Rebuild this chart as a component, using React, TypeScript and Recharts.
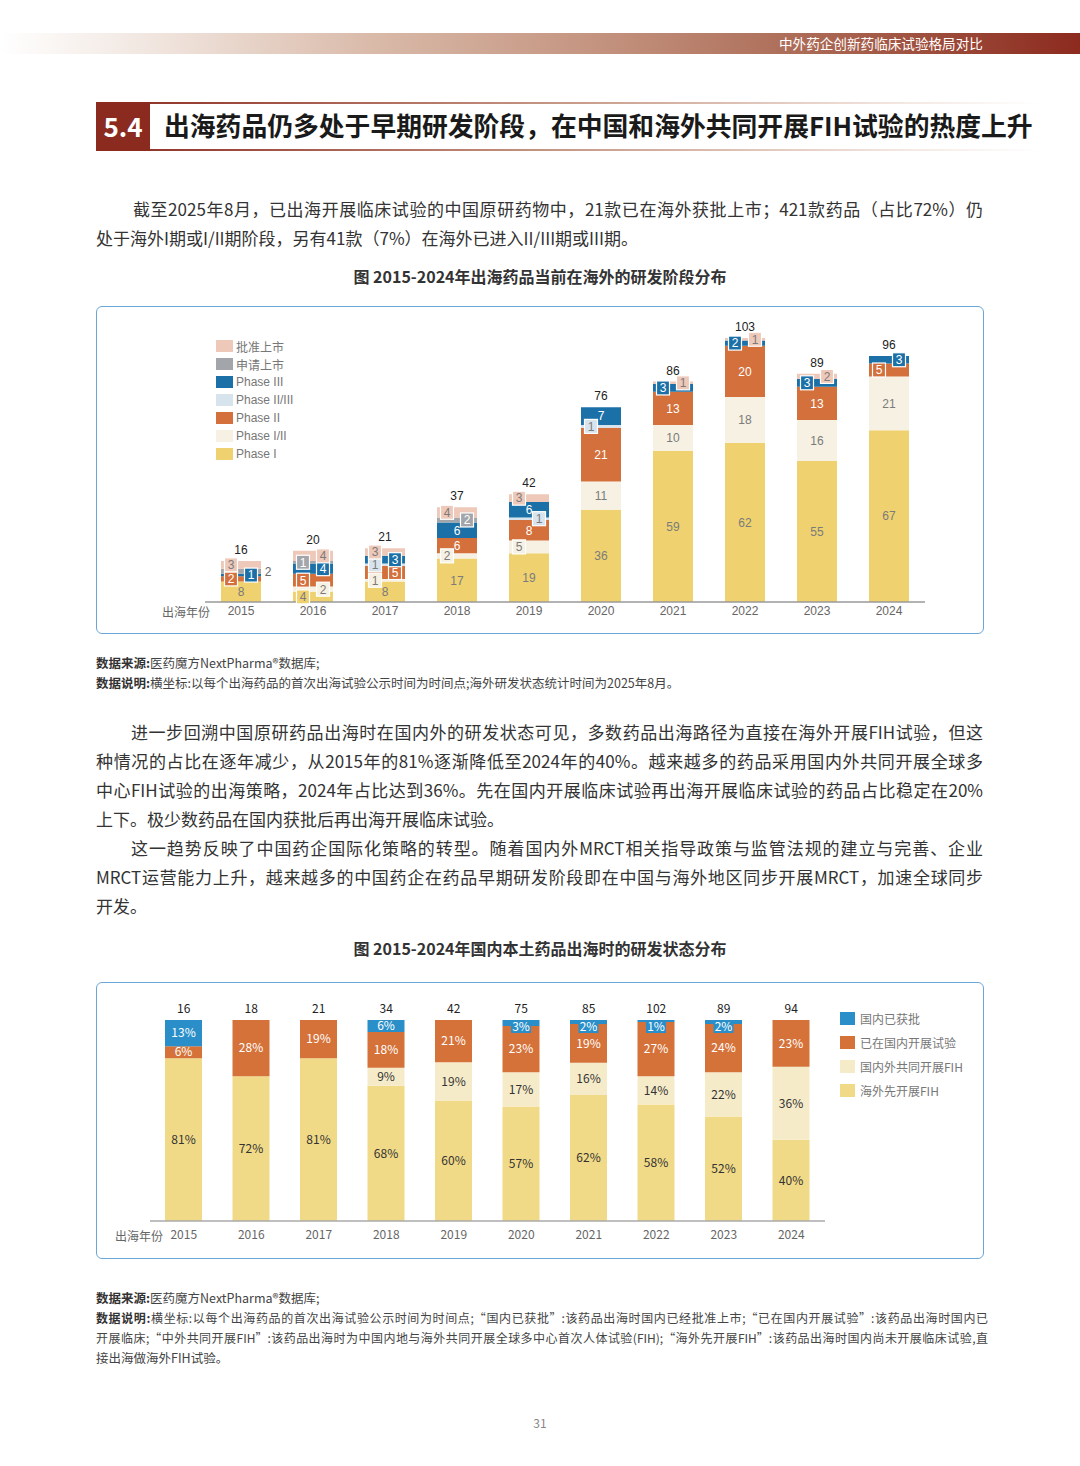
import React from "react";
import { ComposedChart, Bar, Line, XAxis, YAxis, LabelList, Legend } from "recharts";

// 图1：出海药品当前在海外的研发阶段（款）
const years = ["2015", "2016", "2017", "2018", "2019", "2020", "2021", "2022", "2023", "2024"];
const phaseI = [8, 4, 8, 17, 19, 36, 59, 62, 55, 67];
const phaseI_II = [0, 2, 1, 2, 5, 11, 10, 18, 16, 21];
const phaseII = [2, 5, 5, 6, 8, 21, 13, 20, 13, 5];
const phaseII_III = [0, 0, 1, 0, 1, 1, 0, 0, 0, 0];
const phaseIII = [1, 4, 3, 6, 6, 7, 3, 2, 3, 3];
const filed = [2, 1, 0, 2, 0, 0, 0, 0, 0, 0];
const approved = [3, 4, 3, 4, 3, 0, 1, 1, 2, 0];
const totals1 = [16, 20, 21, 37, 42, 76, 86, 103, 89, 96];

// 图2：出海时的国内研发状态（%）
const fihOverseas = [81, 72, 81, 68, 60, 57, 62, 58, 52, 40];
const fihJoint = [0, 0, 0, 9, 19, 17, 16, 14, 22, 36];
const trialDomestic = [6, 28, 19, 18, 21, 23, 19, 27, 24, 23];
const approvedDomestic = [13, 0, 0, 6, 0, 3, 2, 1, 2, 0];
const totals2 = [16, 18, 21, 34, 42, 75, 85, 102, 89, 94];

const CJK = '"Noto Sans CJK SC", "Noto Sans", sans-serif';
const LATIN = '"Liberation Sans", "Noto Sans CJK SC", sans-serif';

const stages = [
  { key: "p1", name: "Phase I", values: phaseI, color: "#EFD26F", text: "#7b7b7b" },
  { key: "p12", name: "Phase I/II", values: phaseI_II, color: "#F6F1E2", text: "#7b7b7b" },
  { key: "p2", name: "Phase II", values: phaseII, color: "#D3703B", text: "#fff" },
  { key: "p23", name: "Phase II/III", values: phaseII_III, color: "#D7E4EE", text: "#7b7b7b" },
  { key: "p3", name: "Phase III", values: phaseIII, color: "#1B70A8", text: "#fff" },
  { key: "filed", name: "申请上市", values: filed, color: "#A2A6AB", text: "#fff" },
  { key: "appr", name: "批准上市", values: approved, color: "#EEC8B8", text: "#7b7b7b" },
];

const statuses = [
  { key: "overseas", name: "海外先开展FIH", values: fihOverseas, color: "#F1DA87", text: "#333" },
  { key: "joint", name: "国内外共同开展FIH", values: fihJoint, color: "#F6EBC9", text: "#333" },
  { key: "trial", name: "已在国内开展试验", values: trialDomestic, color: "#D57239", text: "#fff" },
  { key: "approved", name: "国内已获批", values: approvedDomestic, color: "#2A8FC9", text: "#fff" },
];

const data1 = years.map((year, i) => {
  const row: any = { year, total: totals1[i] };
  stages.forEach((s) => (row[s.key] = s.values[i]));
  return row;
});

const data2 = years.map((year, i) => {
  const row: any = { year, total: totals2[i] };
  statuses.forEach((s) => (row[s.key] = s.values[i]));
  return row;
});

// labels get the year as value (LabelList dataKey="year"), zero bars are skipped so index can't be trusted
const yearIndex = (props: any) => {
  const k = years.indexOf(String(props.value));
  return k >= 0 ? k : props.index;
};

function box(props: any) {
  const vb = props.viewBox && props.viewBox.width != null ? props.viewBox : props;
  let { x, y, width, height } = vb;
  if (height < 0) {
    y += height;
    height = -height;
  }
  return { x, y, width, height };
}

// small segments: alternate left / right going up the bar, switch side or move outside on collision
// (positions worked out in value units: mid-point of each segment, 12px ≈ 4.7 units)
function smallSides(i: number) {
  const out: Record<string, number> = {};
  const placed: { side: number; mid: number }[] = [];
  let base = 0;
  let n = 0;
  stages.forEach((s) => {
    const v = s.values[i];
    const mid = base + v / 2;
    base += v;
    if (v <= 0 || v > 5) return;
    const pref = n % 2 === 0 ? -1 : 1;
    n++;
    const free = (side: number) => placed.every((p) => p.side !== side || Math.abs(p.mid - mid) >= 4.7);
    const side = free(pref) ? pref : free(-pref) ? -pref : 2;
    placed.push({ side, mid });
    out[s.key] = side;
  });
  return out;
}

const stageLabel = (s: any) => (props: any) => {
  const i = yearIndex(props);
  const v = s.values[i];
  if (!v) return null;
  const { x, y, width, height } = box(props);
  const cx = x + width / 2;
  const cy = y + height / 2;
  if (v > 5) {
    return (
      <text x={cx} y={cy} dy="0.36em" textAnchor="middle" fontSize={12} fontFamily={LATIN} fill={s.text}>
        {v}
      </text>
    );
  }
  const side = smallSides(i)[s.key];
  if (side === 2) {
    return (
      <text x={cx + 27} y={cy} dy="0.36em" textAnchor="middle" fontSize={12} fontFamily={LATIN} fill="#666">
        {v}
      </text>
    );
  }
  const bx = cx + side * 10;
  return (
    <g>
      {height < 13 && (
        <rect x={bx - 6.5} y={cy - 7} width={13} height={14} fill={s.color} stroke="#fff" strokeWidth={1.2} />
      )}
      <text x={bx} y={cy} dy="0.36em" textAnchor="middle" fontSize={12} fontFamily={LATIN} fill={s.text}>
        {v}
      </text>
    </g>
  );
};

const statusLabel = (s: any) => (props: any) => {
  const i = yearIndex(props);
  const v = s.values[i];
  if (!v) return null;
  const { x, y, width, height } = box(props);
  const cx = x + width / 2;
  if (height < 10) {
    return (
      <g>
        <rect x={cx - 10} y={y} width={20} height={13} fill={s.color} />
        <text x={cx} y={y + 6.5} dy="0.36em" textAnchor="middle" fontSize={12} fontFamily={CJK} fill={s.text}>
          {v}%
        </text>
      </g>
    );
  }
  return (
    <text x={cx} y={y + height / 2} dy="0.36em" textAnchor="middle" fontSize={12} fontFamily={CJK} fill={s.text}>
      {v}%
    </text>
  );
};

const totalLabel = (totals: number[], family: string) => (props: any) => {
  const vb = props.viewBox || {};
  const x = props.x ?? vb.x;
  const y = props.y ?? vb.y;
  const i = yearIndex(props);
  if (x == null || y == null || i == null) return null;
  return (
    <text x={x} y={y - 7} textAnchor="middle" fontSize={12} fontFamily={family} fill="#222">
      {totals[i]}
    </text>
  );
};

const StageLegend = () => (
  <div style={{ fontFamily: LATIN, fontSize: 12, color: "#777" }}>
    {[...stages].reverse().map((s) => (
      <div key={s.key} style={{ display: "flex", alignItems: "center", height: 18 }}>
        <span style={{ width: 17, height: 12, background: s.color, marginRight: 3, display: "inline-block" }} />
        {s.name}
      </div>
    ))}
  </div>
);

const StatusLegend = () => (
  <div style={{ fontFamily: CJK, fontSize: 12, color: "#777" }}>
    {[...statuses].reverse().map((s) => (
      <div key={s.key} style={{ display: "flex", alignItems: "center", height: 24 }}>
        <span style={{ width: 15, height: 13, background: s.color, marginRight: 5, display: "inline-block" }} />
        {s.name}
      </div>
    ))}
  </div>
);

function Line1({ top, left, width, text, justify = true }: any) {
  return (
    <div
      style={{
        position: "absolute",
        top: top - 14.5,
        left,
        width,
        height: 29,
        lineHeight: "29px",
        fontSize: 17,
        color: "#333",
        textAlign: justify ? "justify" : "left",
        textAlignLast: justify ? "justify" : "left",
      } as any}
    >
      {text}
    </div>
  );
}

function Note({ top, label, text, justify = false }: any) {
  return (
    <div
      style={{
        position: "absolute",
        top: top - 10,
        left: 96,
        width: 892,
        height: 20,
        lineHeight: "20px",
        fontSize: justify ? 12 : 12.5,
        color: "#444",
        whiteSpace: justify ? "normal" : "nowrap",
        textAlign: justify ? "justify" : "left",
        textAlignLast: justify ? "justify" : "left",
      } as any}
    >
      {label && <b style={{ color: "#333" }}>{label}</b>}
      {text}
    </div>
  );
}

export default function App() {
  return (
    <div
      style={{
        position: "absolute",
        left: 0,
        top: 0,
        width: 1080,
        height: 1466,
        background: "#fff",
        fontFamily: CJK,
        overflow: "hidden",
      }}
    >
      {/* header band */}
      <div
        style={{
          position: "absolute",
          left: 0,
          top: 33,
          width: 1080,
          height: 21,
          background:
            "linear-gradient(to right, #ffffff 0%, #F0E4DD 15%, #D9B9A8 35%, #C49480 55%, #AB6A55 75%, #8C2A1E 100%)",
        }}
      />
      <div style={{ position: "absolute", left: 779, top: 35, fontSize: 13.6, color: "#fff", lineHeight: "17px", whiteSpace: "nowrap" }}>
        中外药企创新药临床试验格局对比
      </div>

      {/* section title */}
      <div
        style={{
          position: "absolute",
          left: 96,
          top: 102,
          width: 944,
          height: 2,
          background: "linear-gradient(to right, #8B2A1F 0%, #C79A88 50%, #F3E6E0 85%, #ffffff 100%)",
        }}
      />
      <div
        style={{
          position: "absolute",
          left: 96,
          top: 149,
          width: 944,
          height: 2,
          background: "linear-gradient(to right, #8B2A1F 0%, #C79A88 50%, #F3E6E0 85%, #ffffff 100%)",
        }}
      />
      <div
        style={{
          position: "absolute",
          left: 96,
          top: 102,
          width: 54,
          height: 49,
          background: "#8B2A1F",
          color: "#fff",
          fontWeight: 700,
          fontSize: 26,
          lineHeight: "47px",
          textAlign: "center",
        }}
      >
        5.4
      </div>
      <div
        style={{
          position: "absolute",
          left: 164,
          top: 107,
          fontSize: 25.8,
          fontWeight: 700,
          color: "#1a1a1a",
          lineHeight: "36px",
          whiteSpace: "nowrap",
        }}
      >
        出海药品仍多处于早期研发阶段，在中国和海外共同开展FIH试验的热度上升
      </div>

      {/* paragraph 1 */}
      <Line1 top={208} left={133} width={850} text="截至2025年8月，已出海开展临床试验的中国原研药物中，21款已在海外获批上市；421款药品（占比72%）仍" />
      <Line1 top={237} left={96} width={700} justify={false} text="处于海外I期或I/II期阶段，另有41款（7%）在海外已进入II/III期或III期。" />

      {/* chart 1 */}
      <div
        style={{
          position: "absolute",
          left: 0,
          width: 1080,
          top: 265,
          textAlign: "center",
          fontSize: 16,
          fontWeight: 700,
          color: "#333",
          lineHeight: "22px",
        }}
      >
        图 2015-2024年出海药品当前在海外的研发阶段分布
      </div>
      <div
        style={{
          position: "absolute",
          left: 96,
          top: 306,
          width: 888,
          height: 328,
          boxSizing: "border-box",
          border: "1.5px solid #6AA6D8",
          borderRadius: 6,
        }}
      />
      <div style={{ position: "absolute", left: 96, top: 306 }}>
        <ComposedChart width={888} height={328} data={data1} margin={{ top: 14, right: 59, bottom: 12, left: 109 }}>
          <XAxis
            dataKey="year"
            height={20}
            tickLine={false}
            tickSize={0}
            tickMargin={4}
            axisLine={{ stroke: "#9a9a9a", strokeWidth: 1.5 }}
            tick={{ fill: "#666", fontSize: 12, fontFamily: LATIN }}
          />
          <YAxis hide domain={[0, 110]} />
          <Legend
            layout="vertical"
            align="center"
            verticalAlign="middle"
            content={() => <StageLegend />}
            wrapperStyle={{ left: 120, top: 31, width: 140 }}
          />
          {stages.map((s) => (
            <Bar key={s.key} dataKey={s.key} name={s.name} stackId="a" fill={s.color} barSize={40} isAnimationActive={false}>
              <LabelList dataKey="year" content={stageLabel(s)} />
            </Bar>
          ))}
          <Line dataKey="total" stroke="none" dot={false} activeDot={false} legendType="none" isAnimationActive={false}>
            <LabelList dataKey="year" content={totalLabel(totals1, LATIN)} />
          </Line>
        </ComposedChart>
      </div>
      <div style={{ position: "absolute", left: 162, top: 604, fontSize: 12, color: "#666", lineHeight: "16px" }}>出海年份</div>

      <Note top={663} label="数据来源:" text="医药魔方NextPharma®数据库;" />
      <Note top={683} label="数据说明:" text="横坐标:以每个出海药品的首次出海试验公示时间为时间点;海外研发状态统计时间为2025年8月。" />

      {/* paragraphs 2 & 3 */}
      <Line1 top={731} left={131} width={852} text="进一步回溯中国原研药品出海时在国内外的研发状态可见，多数药品出海路径为直接在海外开展FIH试验，但这" />
      <Line1 top={760} left={96} width={887} text="种情况的占比在逐年减少，从2015年的81%逐渐降低至2024年的40%。越来越多的药品采用国内外共同开展全球多" />
      <Line1 top={789} left={96} width={887} text="中心FIH试验的出海策略，2024年占比达到36%。先在国内开展临床试验再出海开展临床试验的药品占比稳定在20%" />
      <Line1 top={818} left={96} width={700} justify={false} text="上下。极少数药品在国内获批后再出海开展临床试验。" />
      <Line1 top={847} left={131} width={852} text="这一趋势反映了中国药企国际化策略的转型。随着国内外MRCT相关指导政策与监管法规的建立与完善、企业" />
      <Line1 top={876} left={96} width={887} text="MRCT运营能力上升，越来越多的中国药企在药品早期研发阶段即在中国与海外地区同步开展MRCT，加速全球同步" />
      <Line1 top={905} left={96} width={400} justify={false} text="开发。" />

      {/* chart 2 */}
      <div
        style={{
          position: "absolute",
          left: 0,
          width: 1080,
          top: 937,
          textAlign: "center",
          fontSize: 16,
          fontWeight: 700,
          color: "#333",
          lineHeight: "22px",
        }}
      >
        图 2015-2024年国内本土药品出海时的研发状态分布
      </div>
      <div
        style={{
          position: "absolute",
          left: 96,
          top: 982,
          width: 888,
          height: 277,
          boxSizing: "border-box",
          border: "1.5px solid #6AA6D8",
          borderRadius: 6,
        }}
      />
      <div style={{ position: "absolute", left: 96, top: 982 }}>
        <ComposedChart
          width={888}
          height={277}
          data={data2}
          stackOffset="expand"
          margin={{ top: 38, right: 159, bottom: 16, left: 54 }}
        >
          <XAxis
            dataKey="year"
            height={22}
            tickLine={false}
            tickSize={0}
            tickMargin={9}
            axisLine={{ stroke: "#aaaaaa", strokeWidth: 1.5 }}
            tick={{ fill: "#666", fontSize: 12, fontFamily: CJK }}
          />
          <YAxis hide domain={[0, 1]} />
          <Legend
            layout="vertical"
            align="center"
            verticalAlign="middle"
            content={() => <StatusLegend />}
            wrapperStyle={{ left: 744, top: 24, width: 140 }}
          />
          {statuses.map((s) => (
            <Bar key={s.key} dataKey={s.key} name={s.name} stackId="b" fill={s.color} barSize={37} isAnimationActive={false}>
              <LabelList dataKey="year" content={statusLabel(s)} />
            </Bar>
          ))}
          <Line dataKey={() => 1} stroke="none" dot={false} activeDot={false} legendType="none" isAnimationActive={false}>
            <LabelList dataKey="year" content={totalLabel(totals2, CJK)} />
          </Line>
        </ComposedChart>
      </div>
      <div style={{ position: "absolute", left: 115, top: 1228, fontSize: 12, color: "#666", lineHeight: "16px" }}>出海年份</div>

      <Note top={1298} label="数据来源:" text="医药魔方NextPharma®数据库;" />
      <Note
        top={1318}
        justify
        label="数据说明:"
        text="横坐标:以每个出海药品的首次出海试验公示时间为时间点;“国内已获批”:该药品出海时国内已经批准上市;“已在国内开展试验”:该药品出海时国内已"
      />
      <Note
        top={1338}
        justify
        text="开展临床;“中外共同开展FIH”:该药品出海时为中国内地与海外共同开展全球多中心首次人体试验(FIH);“海外先开展FIH”:该药品出海时国内尚未开展临床试验,直"
      />
      <Note top={1358} text="接出海做海外FIH试验。" />

      <div style={{ position: "absolute", left: 0, width: 1080, top: 1414, textAlign: "center", fontSize: 12, color: "#888" }}>
        31
      </div>
    </div>
  );
}
